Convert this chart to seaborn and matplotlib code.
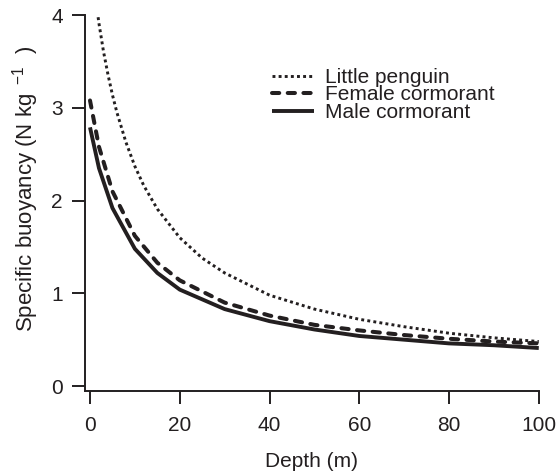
import matplotlib
matplotlib.use("Agg")
import matplotlib.pyplot as plt
import seaborn as sns
import pandas as pd

# Depth sampling points (m)
depth = [0, 2, 5, 10, 15, 20, 30, 40, 50, 60, 70, 80, 90, 100]
penguin_depth = [1, 2, 3, 4, 5, 6, 8, 10, 12, 15, 20, 25, 30, 40, 50, 60, 70, 80, 90, 100]

# Specific buoyancy (N kg^-1) for each group
little_penguin = [4.26, 3.91, 3.61, 3.36, 3.14, 2.95, 2.63, 2.37, 2.16, 1.91, 1.60, 1.38,
                  1.22, 0.98, 0.83, 0.72, 0.64, 0.57, 0.52, 0.48]
female_cormorant = [3.08, 2.58, 2.10, 1.62, 1.33, 1.14, 0.90, 0.76, 0.66, 0.60, 0.55, 0.51, 0.48, 0.46]
male_cormorant = [2.79, 2.35, 1.92, 1.48, 1.22, 1.04, 0.83, 0.70, 0.61, 0.54, 0.50, 0.46, 0.44, 0.41]

series_names = ["Little penguin", "Female cormorant", "Male cormorant"]
y_ticks = [0, 1, 2, 3, 4]
x_ticks = [0, 20, 40, 60, 80, 100]

df = pd.concat([
    pd.DataFrame({"Depth": d, "Buoyancy": vals, "Group": name})
    for name, d, vals in zip(series_names,
                             [penguin_depth, depth, depth],
                             [little_penguin, female_cormorant, male_cormorant])
], ignore_index=True)

sns.set_style("ticks")
plt.rcParams["font.family"] = ["Liberation Sans", "DejaVu Sans"]
plt.rcParams["mathtext.fontset"] = "custom"
plt.rcParams["mathtext.rm"] = "Liberation Sans"
plt.rcParams["mathtext.it"] = "Liberation Sans"

ink = "#231f20"
text_col = "#231f20"

fig = plt.figure(figsize=(5.56, 4.74), dpi=100)
ax = fig.add_axes([0.153, 0.175, 0.816, 0.793])

dash_map = {
    "Little penguin": (1.0, 1.1),
    "Female cormorant": (1.8, 2.1),
    "Male cormorant": "",
}
width_map = {"Little penguin": 2.1, "Female cormorant": 2.9, "Male cormorant": 2.8}

sns.lineplot(data=df, x="Depth", y="Buoyancy", style="Group", style_order=series_names,
             dashes=dash_map, color=ink, ax=ax, legend=False, estimator=None, sort=False)

for line, name in zip(ax.get_lines(), series_names):
    line.set_linewidth(width_map[name])
    line.set_dash_capstyle("butt" if name == "Little penguin" else "round")
    line.set_solid_capstyle("butt")
    line.set_label(name)

ax.set_xlim(-1.1, 100)
ax.set_ylim(-0.054, 4)
ax.set_xticks(x_ticks)
ax.set_yticks(y_ticks)

for side in ["top", "right"]:
    ax.spines[side].set_visible(False)
for side in ["left", "bottom"]:
    ax.spines[side].set_linewidth(1.4)
    ax.spines[side].set_color(ink)

ax.tick_params(axis="both", direction="out", length=9.5, width=1.4, color=ink,
               labelsize=15, labelcolor=text_col)
ax.tick_params(axis="x", pad=8.5)
ax.tick_params(axis="y", pad=6.5)

ax.set_xlabel("Depth (m)", fontsize=15, color=text_col, labelpad=12)
ax.set_ylabel(r"Specific buoyancy (N kg$^{\ \ \mathregular{-1}}$  )", fontsize=16,
              color=text_col)
ax.yaxis.set_label_coords(-0.097, 0.538)

leg = ax.legend(handles=ax.get_lines(), labels=series_names, loc="center left",
                bbox_to_anchor=(272 / 556, 1 - 95 / 474), bbox_transform=fig.transFigure,
                frameon=False, fontsize=15, handlelength=2.0, handletextpad=0.55,
                labelspacing=-0.08, borderpad=0, borderaxespad=0)
for t in leg.get_texts():
    t.set_color(text_col)

fig.savefig("out.png", dpi=100)
